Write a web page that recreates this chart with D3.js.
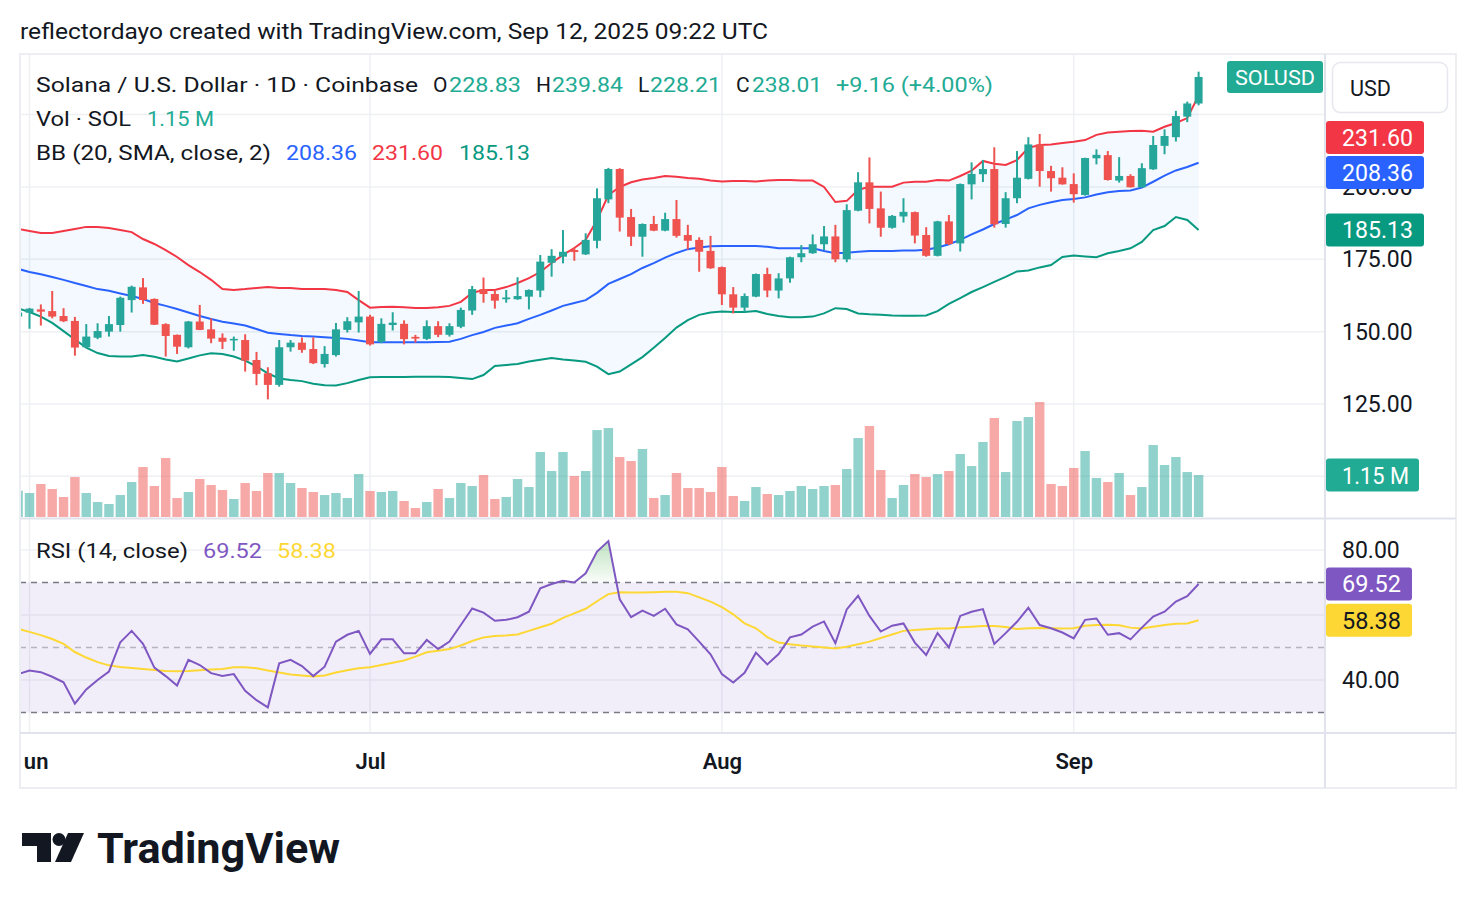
<!DOCTYPE html>
<html><head><meta charset="utf-8">
<script src="https://cdn.jsdelivr.net/npm/d3@7"></script>
<style>
html,body{margin:0;padding:0;background:#fff;}
svg{display:block;font-family:Roboto,"Noto Sans",sans-serif;}
</style></head>
<body><svg id="c" width="1476" height="908"></svg>
<script>
// ---------------- DATA ----------------
const startDate = "2025-05-31", endDate = "2025-09-12";
const dates = d3.utcDay.range(new Date(startDate + "T00:00:00Z"), d3.utcDay.offset(new Date(endDate + "T00:00:00Z"), 1));

const open = [155.2,
156.56,157.7,157.1,155.4,153.7,144.6,147.9,150.0,152.3,160.9,
165.3,161.3,152.6,148.9,144.6,153.5,150.8,147.9,147.0,147.1,
140.2,135.6,131.6,144.6,146.2,144.0,138.8,141.9,150.6,153.2,
155.2,146.5,152.3,152.7,148.2,147.5,151.9,148.9,151.7,157.3,
164.7,163.0,161.2,161.2,162.1,164.2,173.8,175.9,178.2,176.7,
181.4,195.7,206.2,189.6,182.8,187.2,184.9,188.9,183.4,181.7,
177.9,172.3,162.9,158.3,162.1,169.9,164.2,168.4,175.7,177.1,
180.2,182.9,175.0,191.8,201.6,192.6,185.9,189.8,191.3,183.4,
176.2,188.1,180.5,200.9,204.4,206.2,187.2,196.1,202.8,214.7,
205.5,203.2,201.0,197.2,209.9,211.0,202.2,203.8,199.9,206.1,
214.2,217.2,224.3,228.83];
const high = [157.0,
158.2,159.4,164.05,158.1,155.1,152.6,152.9,155.4,162.1,165.9,
168.5,161.5,152.9,149.0,153.7,159.2,154.6,149.4,148.3,149.1,
143.0,137.7,147.1,147.1,148.0,148.0,145.0,153.0,155.0,164.06,
155.8,154.6,156.7,153.9,148.9,153.9,153.6,152.9,158.3,165.8,
168.7,164.4,164.4,168.8,164.6,176.5,178.5,185.1,179.1,184.0,
199.5,206.6,206.5,192.4,187.4,190.0,191.1,195.5,186.9,182.6,
183.1,172.5,165.4,163.2,170.1,172.1,170.2,175.9,179.9,183.6,
186.5,186.9,194.0,205.1,210.2,198.4,190.3,196.1,191.5,186.1,
188.3,190.3,201.2,208.5,209.3,213.7,198.2,212.4,217.2,218.3,
207.3,206.8,204.7,210.1,213.0,212.4,210.3,204.4,208.2,217.6,
219.9,226.3,229.5,239.84];
const low = [153.8,
151.0,152.1,154.6,153.3,141.7,144.3,147.4,148.3,150.0,156.6,
159.6,152.3,141.4,142.3,144.2,150.5,146.0,144.0,143.4,136.2,
131.5,126.6,131.0,143.1,142.7,138.8,137.6,141.4,149.7,149.7,
145.2,146.0,150.4,145.6,146.2,147.1,148.1,148.3,151.2,155.8,
160.0,157.95,160.0,161.0,157.7,161.9,169.0,173.6,174.5,176.5,
178.8,194.4,184.6,179.6,175.9,184.7,184.7,182.5,178.4,170.7,
171.7,159.2,156.3,156.7,161.9,161.9,161.5,166.9,174.0,176.9,
178.2,174.0,174.0,191.6,187.4,182.8,185.6,187.7,180.5,175.9,
176.0,179.95,177.7,195.7,201.7,185.95,185.95,194.4,202.6,200.1,
198.4,200.8,194.6,197.0,207.8,202.2,201.5,199.8,199.8,205.9,
211.3,215.7,222.4,228.21];
const close = [156.6,
157.95,156.9,155.2,153.6,144.5,148.3,150.2,152.6,161.7,165.5,
160.9,152.4,148.5,144.8,153.5,150.6,147.6,146.5,147.5,140.0,
135.4,131.6,144.6,146.2,143.7,139.1,142.3,150.8,153.6,155.2,
145.6,152.7,153.1,147.4,147.6,151.9,148.9,151.9,157.5,164.7,
163.0,160.7,161.8,162.3,164.4,174.2,176.2,177.6,177.5,181.7,
196.1,206.2,189.4,182.8,187.2,184.9,188.9,183.1,181.4,177.6,
171.9,162.9,158.3,162.3,169.9,164.2,168.4,175.7,177.1,180.2,
182.9,175.0,192.0,201.6,192.4,185.9,190.0,191.4,183.2,176.2,
188.1,180.3,201.0,204.5,206.2,187.1,196.1,203.2,214.7,205.5,
203.0,200.9,197.5,210.0,211.1,202.4,203.8,199.9,206.5,214.5,
217.6,224.5,228.85,238.01];
// volume in millions of SOL
const volume = [0.72,
0.657,0.904,0.767,0.548,1.095,0.657,0.411,0.356,0.602,0.958,
1.369,0.849,1.615,0.520,0.685,1.040,0.876,0.739,0.493,0.931,
0.712,1.205,1.205,0.931,0.794,0.685,0.602,0.657,0.520,1.177,
0.712,0.685,0.712,0.438,0.246,0.411,0.767,0.520,0.931,0.849,
1.150,0.493,0.548,1.040,0.821,1.780,1.260,1.780,1.123,1.260,
2.382,2.437,1.643,1.533,1.862,0.520,0.602,1.205,0.794,0.794,
0.685,1.369,0.575,0.438,0.821,0.630,0.602,0.712,0.849,0.767,
0.849,0.876,1.314,2.163,2.492,1.287,0.520,0.876,1.177,1.095,
1.177,1.260,1.725,1.396,2.054,2.711,1.232,2.629,2.738,3.149,
0.904,0.849,1.342,1.807,1.068,0.958,1.205,0.602,0.821,1.971,
1.424,1.643,1.232,1.150];
const bbUpper = [185.5,
184.8,184.1,184.1,184.8,185.5,186.2,186.2,185.8,185.1,184.4,
182.0,180.3,178.2,175.8,173.0,170.6,167.9,164.7,164.4,164.7,
165.1,165.4,165.1,165.1,164.7,164.7,164.7,164.4,163.7,160.9,
158.3,158.5,158.6,158.4,158.2,158.2,158.4,158.9,160.3,163.4,
164.4,164.4,165.4,166.8,168.5,170.6,173.7,176.5,178.9,181.7,
188.6,197.2,200.0,201.6,202.6,203.1,203.8,203.5,203.1,202.8,
202.2,201.9,202.1,202.1,201.9,202.2,202.4,202.4,202.2,202.2,
200.0,194.8,195.2,199.0,200.1,200.1,200.1,201.5,201.8,201.8,
202.4,202.2,203.8,205.6,209.0,208.0,207.6,209.3,213.5,214.5,
214.7,215.2,215.6,216.2,218.0,218.8,219.1,219.3,219.4,219.1,
220.8,222.1,223.8,231.60];
const bbBasis = [171.7,
170.6,169.8,168.9,167.9,166.8,165.8,164.7,164.1,163.2,162.3,
161.3,159.9,158.9,157.8,156.6,155.4,154.4,153.4,152.8,152.1,
150.9,149.6,149.2,148.8,148.5,148.3,148.1,147.8,147.5,146.9,
146.3,146.3,146.3,146.3,146.3,146.3,146.4,146.5,147.5,148.8,
149.9,151.3,152.1,152.9,154.4,155.8,157.3,158.9,159.9,160.9,
163.4,166.5,168.2,169.9,172.0,173.7,175.6,177.2,178.5,179.1,
179.5,179.6,179.6,179.6,179.6,179.3,178.8,178.8,178.8,178.8,
177.9,177.1,177.3,177.6,177.9,177.9,177.9,178.0,178.0,178.3,
179.1,180.2,181.7,183.6,185.3,187.2,188.7,190.3,192.6,193.8,
194.7,195.5,195.8,196.4,197.4,198.2,198.6,198.8,199.8,201.8,
203.9,205.7,206.9,208.36];
const bbLower = [158.0,
156.8,155.2,153.0,150.2,147.3,144.5,142.6,141.6,141.4,141.4,
141.9,141.3,140.4,139.7,140.7,141.8,142.5,142.3,141.4,140.0,
138.0,135.6,133.8,133.3,132.9,132.0,131.5,131.4,132.2,133.3,
134.2,134.3,134.3,134.3,134.4,134.4,134.4,134.3,134.0,133.6,
135.0,138.1,138.5,138.8,139.7,140.3,140.9,140.4,140.0,139.6,
137.9,135.3,136.2,138.7,141.2,144.4,147.8,151.4,154.0,155.8,
156.6,157.0,156.8,156.8,157.1,156.1,155.4,155.0,155.0,155.2,
156.3,158.1,157.8,156.3,156.0,155.8,155.6,155.5,155.5,155.6,
157.1,159.6,161.6,163.7,165.4,167.2,168.9,170.8,171.1,172.2,
173.0,175.8,176.3,176.0,175.7,177.1,177.9,178.8,181.0,185.1,
186.5,189.6,188.6,185.13];
const rsi = [41.8,
42.9,42.4,41.0,39.3,32.7,37.1,40.0,42.6,51.6,55.1,
51.1,43.8,41.2,38.3,46.2,44.6,42.1,41.2,41.8,36.7,
33.8,31.6,45.1,46.2,44.3,41.2,44.1,51.8,53.9,55.1,
48.0,52.5,52.5,48.2,48.2,52.3,49.5,51.8,56.9,62.0,
60.7,58.2,58.5,59.3,61.0,68.2,69.5,70.5,70.0,72.8,
79.5,82.7,64.8,59.3,61.3,59.7,61.9,57.1,55.6,51.8,
47.9,41.8,39.2,42.2,48.4,44.8,48.0,53.1,54.0,56.4,
58.0,51.3,61.7,65.9,59.7,54.9,56.7,57.4,51.5,47.7,
54.4,50.0,59.7,61.0,61.8,51.1,54.4,57.9,62.2,56.9,
55.9,54.6,52.8,58.5,58.9,53.9,54.4,52.5,56.1,59.5,
61.0,64.1,65.8,69.52];
const rsiMA = [55.7,
54.8,53.8,52.6,51.1,48.6,46.9,45.5,44.5,44.0,43.7,
43.4,43.1,42.8,42.7,42.8,43.0,43.2,43.4,43.9,43.9,
43.6,42.9,42.3,41.7,41.4,41.1,41.4,42.3,43.0,43.6,
43.9,44.6,45.3,46.0,47.2,48.5,49.0,49.5,50.6,52.0,
53.1,53.5,53.7,54.0,55.1,56.2,57.3,59.1,60.5,61.9,
64.2,66.4,67.0,66.9,66.9,67.0,67.1,67.1,66.7,65.4,
64.1,62.4,60.2,57.4,55.9,53.2,51.5,51.0,50.6,50.3,
50.0,49.7,50.2,51.0,51.8,52.9,54.0,55.1,55.4,55.6,
55.8,55.8,56.2,56.4,56.6,56.6,56.3,55.7,55.9,56.0,
55.9,55.8,55.9,56.7,56.9,57.0,56.8,56.1,55.8,56.4,
56.9,57.3,57.4,58.38];

const priceGrid = [100, 125, 150, 175, 200, 225];
const priceLabels = [125, 150, 175, 200];
const rsiGrid = [40, 60, 80];
const rsiLabels = [40, 80];
const rsiBands = [30, 50, 70];
const monthTicks = ["2025-06-01", "2025-07-01", "2025-08-01", "2025-09-01"];

// ---------------- LAYOUT ----------------
const svg = d3.select("#c");
const W = 1476, H = 908;
const plotL = 20, plotR = 1325, axisR = 1456;
const mainTop = 55, mainBot = 518, rsiTop = 519, rsiBot = 733, timeBot = 788;
const TXT = "#131722";
const UP = "#26a69a", DOWN = "#ef5350";

const x = d3.scaleUtc().domain([dates[0], dates[dates.length - 1]]).range([18.15, 1198.6]);
const y = d3.scaleLinear().domain([85.6, 245.6]).range([mainBot, mainTop]);
const yV = d3.scaleLinear().domain([0, 3.15]).range([517, 402]);
const yR = d3.scaleLinear().domain([23.7, 89.5]).range([rsiBot, rsiTop]);

svg.append("rect").attr("width", W).attr("height", H).attr("fill", "#fff");

const defs = svg.append("defs");
defs.append("clipPath").attr("id", "clipMain").append("rect")
  .attr("x", plotL).attr("y", mainTop).attr("width", plotR - plotL).attr("height", mainBot - mainTop);
defs.append("clipPath").attr("id", "clipRsi").append("rect")
  .attr("x", plotL).attr("y", rsiTop).attr("width", plotR - plotL).attr("height", rsiBot - rsiTop);
defs.append("clipPath").attr("id", "clipOB").append("rect")
  .attr("x", plotL).attr("y", rsiTop).attr("width", plotR - plotL).attr("height", yR(70) - rsiTop);
defs.append("clipPath").attr("id", "clipTime").append("rect")
  .attr("x", plotL + 3).attr("y", rsiBot).attr("width", plotR - plotL - 3).attr("height", timeBot - rsiBot);
const grad = defs.append("linearGradient").attr("id", "obGrad").attr("gradientUnits", "userSpaceOnUse")
  .attr("x1", 0).attr("x2", 0).attr("y1", yR(86)).attr("y2", yR(70));
grad.append("stop").attr("offset", 0).attr("stop-color", "#4caf50").attr("stop-opacity", 0.45);
grad.append("stop").attr("offset", 1).attr("stop-color", "#4caf50").attr("stop-opacity", 0.03);

function txt(g, xx, yy, s, o = {}) {
  const t = g.append("text").attr("x", xx).attr("y", yy).attr("dominant-baseline", "central")
    .attr("font-size", o.size || 21).attr("fill", o.color || TXT)
    .attr("font-weight", o.weight || 400).attr("text-anchor", o.anchor || "start").text(s);
  if (o.w) t.attr("textLength", o.w).attr("lengthAdjust", "spacingAndGlyphs");
  return t;
}

const bars = dates.map((d, i) => ({ d, o: open[i], h: high[i], l: low[i], c: close[i], v: volume[i] }));

// ---------- grid ----------
const grid = svg.append("g");
grid.selectAll(".hg").data(priceGrid).join("line")
  .attr("x1", plotL).attr("x2", plotR).attr("y1", d => y(d)).attr("y2", d => y(d))
  .attr("stroke", "#eef0f4").attr("stroke-width", 1.5);
grid.selectAll(".rg").data(rsiGrid).join("line")
  .attr("x1", plotL).attr("x2", plotR).attr("y1", d => yR(d)).attr("y2", d => yR(d))
  .attr("stroke", "#eef0f4").attr("stroke-width", 1.5);
grid.selectAll(".vg").data(monthTicks).join("line")
  .attr("x1", d => x(new Date(d + "T00:00:00Z"))).attr("x2", d => x(new Date(d + "T00:00:00Z")))
  .attr("y1", mainTop).attr("y2", rsiBot)
  .attr("stroke", "#eef0f4").attr("stroke-width", 1.5);

// ---------- main pane ----------
const gM = svg.append("g").attr("clip-path", "url(#clipMain)");
const bandArea = d3.area().x((d, i) => x(dates[i])).y0((d, i) => y(bbLower[i])).y1(d => y(d));
gM.append("path").datum(bbUpper).attr("d", bandArea).attr("fill", "rgba(33,150,243,0.055)");

gM.selectAll(".vol").data(bars).join("rect")
  .attr("x", d => x(d.d) - 4.7).attr("width", 9.4)
  .attr("y", d => yV(d.v)).attr("height", d => yV(0) - yV(d.v))
  .attr("fill", d => d.c >= d.o ? "rgba(38,166,154,0.5)" : "rgba(239,83,80,0.5)");

const lineP = arr => d3.line().x((d, i) => x(dates[i])).y(d => y(d))(arr);
gM.append("path").attr("d", lineP(bbUpper)).attr("fill", "none").attr("stroke", "#f23645").attr("stroke-width", 2);
gM.append("path").attr("d", lineP(bbBasis)).attr("fill", "none").attr("stroke", "#2962ff").attr("stroke-width", 2);
gM.append("path").attr("d", lineP(bbLower)).attr("fill", "none").attr("stroke", "#089981").attr("stroke-width", 2);

const cg = gM.selectAll(".cd").data(bars).join("g");
cg.append("line").attr("x1", d => x(d.d)).attr("x2", d => x(d.d))
  .attr("y1", d => y(d.h)).attr("y2", d => y(d.l))
  .attr("stroke", d => d.c >= d.o ? UP : DOWN).attr("stroke-width", 2);
cg.append("rect").attr("x", d => x(d.d) - 4).attr("width", 8)
  .attr("y", d => y(Math.max(d.o, d.c)))
  .attr("height", d => Math.max(1.5, Math.abs(y(d.o) - y(d.c))))
  .attr("fill", d => d.c >= d.o ? UP : DOWN);

// ---------- RSI pane ----------
const gR = svg.append("g").attr("clip-path", "url(#clipRsi)");
gR.append("rect").attr("x", plotL).attr("width", plotR - plotL)
  .attr("y", yR(70)).attr("height", yR(30) - yR(70)).attr("fill", "rgba(126,87,194,0.1)");
gR.selectAll(".band").data(rsiBands).join("line")
  .attr("x1", plotL).attr("x2", plotR).attr("y1", d => yR(d)).attr("y2", d => yR(d))
  .attr("stroke", d => d === 50 ? "rgba(120,123,134,0.5)" : "#787b86")
  .attr("stroke-width", 1.5).attr("stroke-dasharray", "6,5");
const obArea = d3.area().x((d, i) => x(dates[i])).y0(yR(70)).y1(d => yR(d));
gR.append("path").datum(rsi).attr("clip-path", "url(#clipOB)").attr("d", obArea).attr("fill", "url(#obGrad)");
const lineR = arr => d3.line().x((d, i) => x(dates[i])).y(d => yR(d))(arr);
gR.append("path").attr("d", lineR(rsiMA)).attr("fill", "none").attr("stroke", "#fdd835").attr("stroke-width", 2);
gR.append("path").attr("d", lineR(rsi)).attr("fill", "none").attr("stroke", "#7e57c2").attr("stroke-width", 2);

// ---------- frame ----------
const fr = svg.append("g").attr("fill", "none");
fr.append("rect").attr("x", plotL).attr("y", mainTop - 1).attr("width", axisR - plotL).attr("height", timeBot - mainTop + 1)
  .attr("stroke", "#eceef2").attr("stroke-width", 2);
fr.append("line").attr("x1", plotL).attr("x2", axisR).attr("y1", 518.5).attr("y2", 518.5).attr("stroke", "#e0e3eb").attr("stroke-width", 2);
fr.append("line").attr("x1", plotL).attr("x2", axisR).attr("y1", rsiBot).attr("y2", rsiBot).attr("stroke", "#e0e3eb").attr("stroke-width", 2);
fr.append("line").attr("x1", plotR).attr("x2", plotR).attr("y1", mainTop - 1).attr("y2", timeBot).attr("stroke", "#e0e3eb").attr("stroke-width", 2);

// ---------- axes ----------
const axP = svg.append("g").attr("transform", `translate(${plotR},0)`)
  .call(d3.axisRight(y).tickValues(priceLabels).tickSize(0).tickPadding(17).tickFormat(d => d.toFixed(2)));
const axR = svg.append("g").attr("transform", `translate(${plotR},0)`)
  .call(d3.axisRight(yR).tickValues(rsiLabels).tickSize(0).tickPadding(17).tickFormat(d => d.toFixed(2)));
[axP, axR].forEach(a => {
  a.select(".domain").remove();
  a.attr("font-family", null).attr("font-size", null);
  a.selectAll("text").attr("font-size", 23).attr("fill", TXT).attr("dy", null).attr("dominant-baseline", "central");
});
const axT = svg.append("g").attr("clip-path", "url(#clipTime)").append("g").attr("transform", `translate(0,${rsiBot})`)
  .call(d3.axisBottom(x).tickValues(monthTicks.map(d => new Date(d + "T00:00:00Z"))).tickSize(0).tickPadding(0).tickFormat(d3.utcFormat("%b")));
axT.select(".domain").remove();
axT.attr("font-family", null).attr("font-size", null);
axT.selectAll("text").attr("font-size", 22).attr("font-weight", 600).attr("fill", TXT)
  .attr("dy", null).attr("y", 28).attr("dominant-baseline", "central");

// ---------- axis value labels ----------
function stackLabels(items, startBottom, h, gap) {
  let prev = startBottom;
  items.sort((a, b) => a.y - b.y).forEach(it => {
    let top = Math.max(it.y - h / 2, prev + gap);
    it.top = top; prev = top + h;
  });
  return items;
}
const H_LBL = 33;
const mainLbls = stackLabels([
  { y: y(bbUpper[bbUpper.length - 1]), v: bbUpper[bbUpper.length - 1], bg: "#f23645", fg: "#fff" },
  { y: y(bbBasis[bbBasis.length - 1]), v: bbBasis[bbBasis.length - 1], bg: "#2962ff", fg: "#fff" },
  { y: y(bbLower[bbLower.length - 1]), v: bbLower[bbLower.length - 1], bg: "#089981", fg: "#fff" }
], 119, H_LBL, 2);
const lg = svg.append("g");
mainLbls.forEach(l => {
  lg.append("rect").attr("x", plotR + 1).attr("y", l.top).attr("width", 98).attr("height", H_LBL).attr("rx", 3).attr("fill", l.bg);
  txt(lg, 1342, l.top + H_LBL / 2 + 1, l.v.toFixed(2), { size: 23, color: l.fg, w: 71 });
});
// volume label
const lastV = volume[volume.length - 1];
lg.append("rect").attr("x", plotR + 1).attr("y", yV(lastV) - H_LBL / 2).attr("width", 93).attr("height", H_LBL).attr("rx", 3).attr("fill", "#22ab94");
txt(lg, 1342, yV(lastV) + 1, lastV.toFixed(2) + " M", { size: 23, color: "#fff", w: 67 });
// RSI labels
const rsiLbls = stackLabels([
  { y: yR(rsi[rsi.length - 1]), v: rsi[rsi.length - 1], bg: "#7e57c2", fg: "#fff" },
  { y: yR(rsiMA[rsiMA.length - 1]), v: rsiMA[rsiMA.length - 1], bg: "#fdd835", fg: TXT }
], 0, H_LBL, 3);
rsiLbls.forEach(l => {
  lg.append("rect").attr("x", plotR + 1).attr("y", l.top).attr("width", 86).attr("height", H_LBL).attr("rx", 3).attr("fill", l.bg);
  txt(lg, 1342, l.top + H_LBL / 2 + 1, l.v.toFixed(2), { size: 23, color: l.fg, w: 59 });
});
// Symbol label at last close
const lastC = close[close.length - 1];
lg.append("rect").attr("x", 1227).attr("y", y(lastC) - 16).attr("width", 96).attr("height", 32).attr("rx", 3).attr("fill", "#22ab94");
txt(lg, 1275, y(lastC) + 1, "SOLUSD", { size: 21, color: "#fff", anchor: "middle", w: 80 });
// USD button
lg.append("rect").attr("x", 1332.5).attr("y", 62.5).attr("width", 115).attr("height", 50).attr("rx", 8)
  .attr("fill", "#fff").attr("stroke", "#e6e8ee").attr("stroke-width", 1.5);
txt(lg, 1350, 88, "USD", { size: 22, w: 41 });

// ---------- legends / texts ----------
const tg = svg.append("g");
txt(tg, 20, 31, "reflectordayo created with TradingView.com, Sep 12, 2025 09:22 UTC", { size: 22, w: 748 });
const G = "#22ab94";
txt(tg, 36, 85, "Solana / U.S. Dollar · 1D · Coinbase", { size: 21, w: 382 });
txt(tg, 433, 85, "O", { size: 21 });
txt(tg, 449, 85, open[open.length - 1].toFixed(2), { size: 21, color: G, w: 72 });
txt(tg, 536, 85, "H", { size: 21 });
txt(tg, 552, 85, high[high.length - 1].toFixed(2), { size: 21, color: G, w: 71 });
txt(tg, 638, 85, "L", { size: 21 });
txt(tg, 650, 85, low[low.length - 1].toFixed(2), { size: 21, color: G, w: 71 });
txt(tg, 736, 85, "C", { size: 21 });
txt(tg, 752, 85, lastC.toFixed(2), { size: 21, color: G, w: 70 });
const chg = lastC - close[close.length - 2];
txt(tg, 836, 85, "+" + chg.toFixed(2) + " (+" + (chg / close[close.length - 2] * 100).toFixed(2) + "%)", { size: 21, color: G, w: 157 });

txt(tg, 36, 119, "Vol · SOL", { size: 21, w: 95 });
txt(tg, 147, 119, lastV.toFixed(2) + " M", { size: 21, color: G, w: 67 });

txt(tg, 36, 153, "BB (20, SMA, close, 2)", { size: 21, w: 235 });
txt(tg, 286, 153, bbBasis[bbBasis.length - 1].toFixed(2), { size: 21, color: "#2962ff", w: 71 });
txt(tg, 372, 153, bbUpper[bbUpper.length - 1].toFixed(2), { size: 21, color: "#f23645", w: 71 });
txt(tg, 459, 153, bbLower[bbLower.length - 1].toFixed(2), { size: 21, color: "#089981", w: 71 });

txt(tg, 36, 551, "RSI (14, close)", { size: 21, w: 152 });
txt(tg, 203, 551, rsi[rsi.length - 1].toFixed(2), { size: 21, color: "#7e57c2", w: 59 });
txt(tg, 277, 551, rsiMA[rsiMA.length - 1].toFixed(2), { size: 21, color: "#fdd835", w: 59 });

// ---------- TradingView logo ----------
const logo = svg.append("g").attr("fill", TXT);
logo.append("path").attr("d", "M22,833 H51 V862 H37 V846 H22 Z");
logo.append("circle").attr("cx", 59).attr("cy", 839.5).attr("r", 6.5);
logo.append("path").attr("d", "M68,833 H84 L71,862 H55 Z");
txt(logo, 97, 848, "TradingView", { size: 42, weight: 700, w: 243 });
</script>
</body></html>
